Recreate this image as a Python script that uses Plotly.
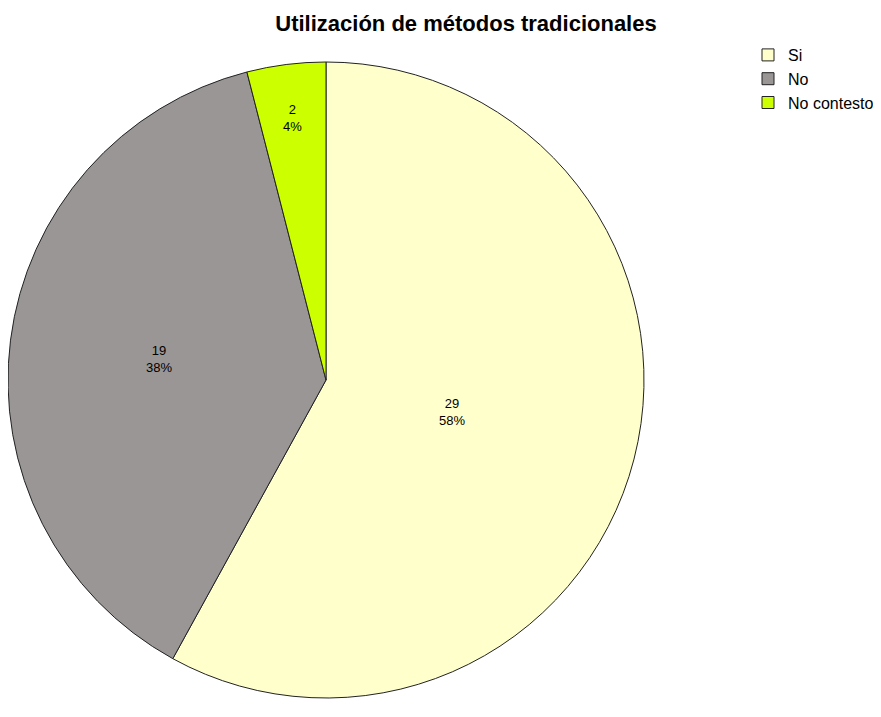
import math
import plotly.graph_objects as go

categories = ["Si", "No", "No contesto"]
values = [29, 19, 2]
colors = ["#FFFFCC", "#9A9696", "#CCFF00"]
title_text = "Utilización de métodos tradicionales"

W, H = 881, 717
OFF = 8                            # page body margin around the figure
cx, cy, r = 326 - OFF, 380 - OFF, 318   # pie centre / radius in figure pixels
label_radius = [0.41, 0.53, 0.83]  # label distance from centre, fraction of radius
label_font = dict(family="Liberation Sans, Arial, sans-serif", size=13, color="#000000")

fig = go.Figure(go.Pie(
    labels=categories,
    values=values,
    sort=False,
    direction="clockwise",
    rotation=0,
    marker=dict(colors=colors, line=dict(color="#222222", width=1)),
    textinfo="none",
    hoverinfo="label+value+percent",
    domain=dict(x=[max(0, cx - r) / W, (cx + r) / W],
                y=[(H - cy - r) / H, (H - cy + r) / H]),
))

# slice labels placed along each slice bisector
total = sum(values)
start = 0.0
for v, f in zip(values, label_radius):
    span = 360.0 * v / total
    mid = math.radians(start + span / 2)
    start += span
    px = cx + f * r * math.sin(mid)
    py = cy - f * r * math.cos(mid)
    fig.add_annotation(
        x=px / W, y=1 - py / H, xref="paper", yref="paper",
        text=f"{v}<br>{round(100 * v / total)}%",
        showarrow=False, font=label_font, align="center",
        xanchor="center", yanchor="middle",
    )

fig.update_layout(
    width=W, height=H,
    margin=dict(l=0, r=0, t=0, b=0),
    paper_bgcolor="white",
    plot_bgcolor="white",
    title=dict(text="<b>" + title_text + "</b>",
               x=(466 - OFF) / W, xanchor="center",
               y=1 - 8 / H, yanchor="top",
               font=dict(family="Liberation Sans, Arial, sans-serif", size=22, color="#000000")),
    legend=dict(x=(748 - OFF) / W, xanchor="left", y=1 - 30 / H, yanchor="top",
                font=dict(family="Liberation Sans, Arial, sans-serif", size=16, color="#000000"),
                bgcolor="rgba(0,0,0,0)", tracegroupgap=0, itemwidth=30),
)

fig.write_html("out.html")
